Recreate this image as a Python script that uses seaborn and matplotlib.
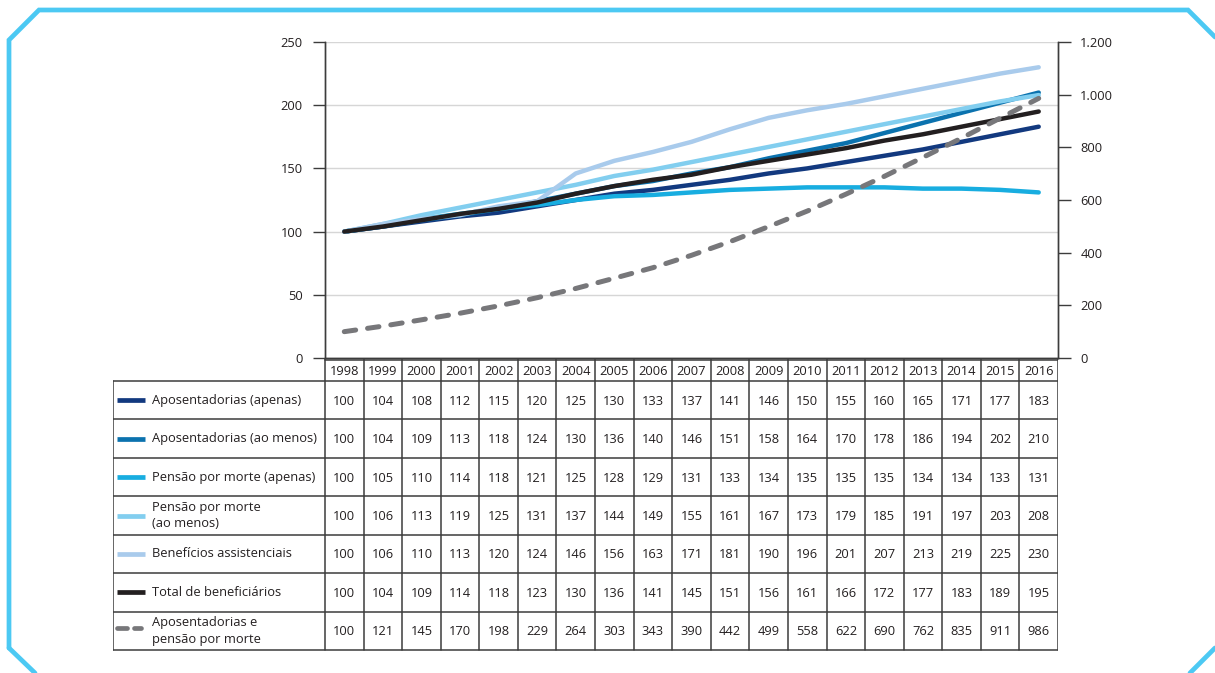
import matplotlib
matplotlib.use("Agg")
import matplotlib.pyplot as plt
import seaborn as sns
import pandas as pd
from matplotlib.ticker import FuncFormatter

# data (índice 1998 = 100)
years = list(range(1998, 2017))
apos_apenas = [100, 104, 108, 112, 115, 120, 125, 130, 133, 137, 141, 146, 150, 155, 160, 165, 171, 177, 183]
apos_menos = [100, 104, 109, 113, 118, 124, 130, 136, 140, 146, 151, 158, 164, 170, 178, 186, 194, 202, 210]
pensao_apenas = [100, 105, 110, 114, 118, 121, 125, 128, 129, 131, 133, 134, 135, 135, 135, 134, 134, 133, 131]
pensao_menos = [100, 106, 113, 119, 125, 131, 137, 144, 149, 155, 161, 167, 173, 179, 185, 191, 197, 203, 208]
assistenciais = [100, 106, 110, 113, 120, 124, 146, 156, 163, 171, 181, 190, 196, 201, 207, 213, 219, 225, 230]
total = [100, 104, 109, 114, 118, 123, 130, 136, 141, 145, 151, 156, 161, 166, 172, 177, 183, 189, 195]
apos_pensao = [100, 121, 145, 170, 198, 229, 264, 303, 343, 390, 442, 499, 558, 622, 690, 762, 835, 911, 986]

labels = ["Aposentadorias (apenas)", "Aposentadorias (ao menos)", "Pensão por morte (apenas)",
          "Pensão por morte\n(ao menos)", "Benefícios assistenciais", "Total de beneficiários",
          "Aposentadorias e\npensão por morte"]
colors = ["#12397f", "#0b72ae", "#18ade0", "#82ceef", "#a9cbec", "#231f20", "#77777a"]
left_series = [apos_apenas, apos_menos, pensao_apenas, pensao_menos, assistenciais, total]
all_series = left_series + [apos_pensao]

sns.set_theme(style="white")
plt.rcParams['font.family'] = ['Open Sans', 'DejaVu Sans']
FS = 9.3
TXT = "#231f20"
EDGE = "#3c3c3c"

W, H = 1215, 673
fig = plt.figure(figsize=(W / 100, H / 100), dpi=100)


def px_rect(x0, y0, x1, y1):
    return [x0 / W, 1 - y1 / H, (x1 - x0) / W, (y1 - y0) / H]


# frame
frame = fig.add_axes([0, 0, 1, 1], zorder=-5)
frame.set_xlim(0, W)
frame.set_ylim(H, 0)
frame.axis("off")
fc = "#4cc9f3"
frame.plot([9, 9, 39, 1188, 1215], [648, 40, 10, 10, 37], color=fc, lw=3.4, solid_joinstyle="miter")
frame.plot([9, 35], [648, 673], color=fc, lw=3.4)
frame.plot([1190, 1215], [673, 648], color=fc, lw=3.4)

# chart
ax = fig.add_axes(px_rect(325, 42, 1058, 358))
ax2 = ax.twinx()

df = pd.DataFrame({"ano": years})
for lab, vals in zip(labels, left_series):
    df[lab] = vals
df_long = df.melt(id_vars="ano", var_name="serie", value_name="indice")
sns.lineplot(data=df_long, x="ano", y="indice", hue="serie", palette=dict(zip(labels[:6], colors[:6])),
             hue_order=labels[:6], lw=3.2, legend=False, ax=ax)
sns.lineplot(x=years, y=apos_pensao, color=colors[6], lw=3.6, legend=False, ax=ax2)
dash = ax2.lines[-1]
dash.set_dashes([2.3, 2.4])
dash.set_dash_capstyle("round")

ax.set_xlim(1997.5, 2016.5)
ax.set_ylim(0, 250)
ax2.set_ylim(0, 1200)
ax.set_xticks([])
ax.set_yticks(range(0, 251, 50))
ax2.set_yticks(range(0, 1201, 200))
ax2.yaxis.set_major_formatter(FuncFormatter(lambda v, p: f"{int(v):,}".replace(",", ".")))
ax.grid(axis="y", color="#d6d6d6", lw=1)
ax.set_xlabel("")
ax.set_ylabel("")
ax2.set_ylabel("")
for a in (ax, ax2):
    a.spines["top"].set_visible(False)
    for s in ("left", "right", "bottom"):
        a.spines[s].set_color(EDGE)
        a.spines[s].set_linewidth(1)
ax.tick_params(axis="y", left=True, direction="out", length=9, width=1, color=EDGE, pad=7,
               labelsize=FS, labelcolor=TXT)
ax2.tick_params(axis="y", right=True, direction="out", length=9, width=1, color=EDGE, pad=7,
                labelsize=FS, labelcolor=TXT)
ax.set_zorder(1)
ax.patch.set_visible(False)
ax2.set_zorder(2)

# table
col_w = (1058 - 325) / len(years)
x_left = 1997.5 - (325 - 113) / col_w
tab = fig.add_axes(px_rect(113, 359, 1058, 651))
tab.set_xlim(x_left, 2016.5)
tab.set_ylim(651, 359)
tab.axis("off")


def px_x(p):
    return x_left + (p - 113) / col_w


head_bot = 381
row_h = (650 - head_bot) / len(labels)
for k in range(len(years) + 1):
    tab.plot([1997.5 + k, 1997.5 + k], [359, 650], color=EDGE, lw=1.1)
tab.plot([x_left, x_left], [head_bot, 650], color=EDGE, lw=1.1)
tab.plot([1997.5, 2016.5], [359.5, 359.5], color=EDGE, lw=1.1)
for i in range(len(labels) + 1):
    y = head_bot + i * row_h
    tab.plot([x_left, 2016.5], [y, y], color=EDGE, lw=1.1)

for yr in years:
    tab.text(yr, (359 + head_bot) / 2 + 1, str(yr), ha="center", va="center", fontsize=FS, color=TXT)

for i, (lab, vals, col) in enumerate(zip(labels, all_series, colors)):
    yc = head_bot + (i + 0.5) * row_h
    if i == len(labels) - 1:
        tab.plot([px_x(117), px_x(127)], [yc - 3, yc - 3], color=col, lw=3.4, solid_capstyle="round")
        tab.plot([px_x(134), px_x(141)], [yc - 3, yc - 3], color=col, lw=3.4, solid_capstyle="round")
    else:
        tab.plot([px_x(117), px_x(145)], [yc, yc], color=col, lw=3.4, solid_capstyle="butt")
    tab.text(px_x(152), yc, lab, ha="left", va="center", fontsize=FS, color=TXT, linespacing=1.35)
    for yr, v in zip(years, vals):
        tab.text(yr, yc + 1, str(v), ha="center", va="center", fontsize=FS, color=TXT)

fig.savefig("out.png", dpi=100)
